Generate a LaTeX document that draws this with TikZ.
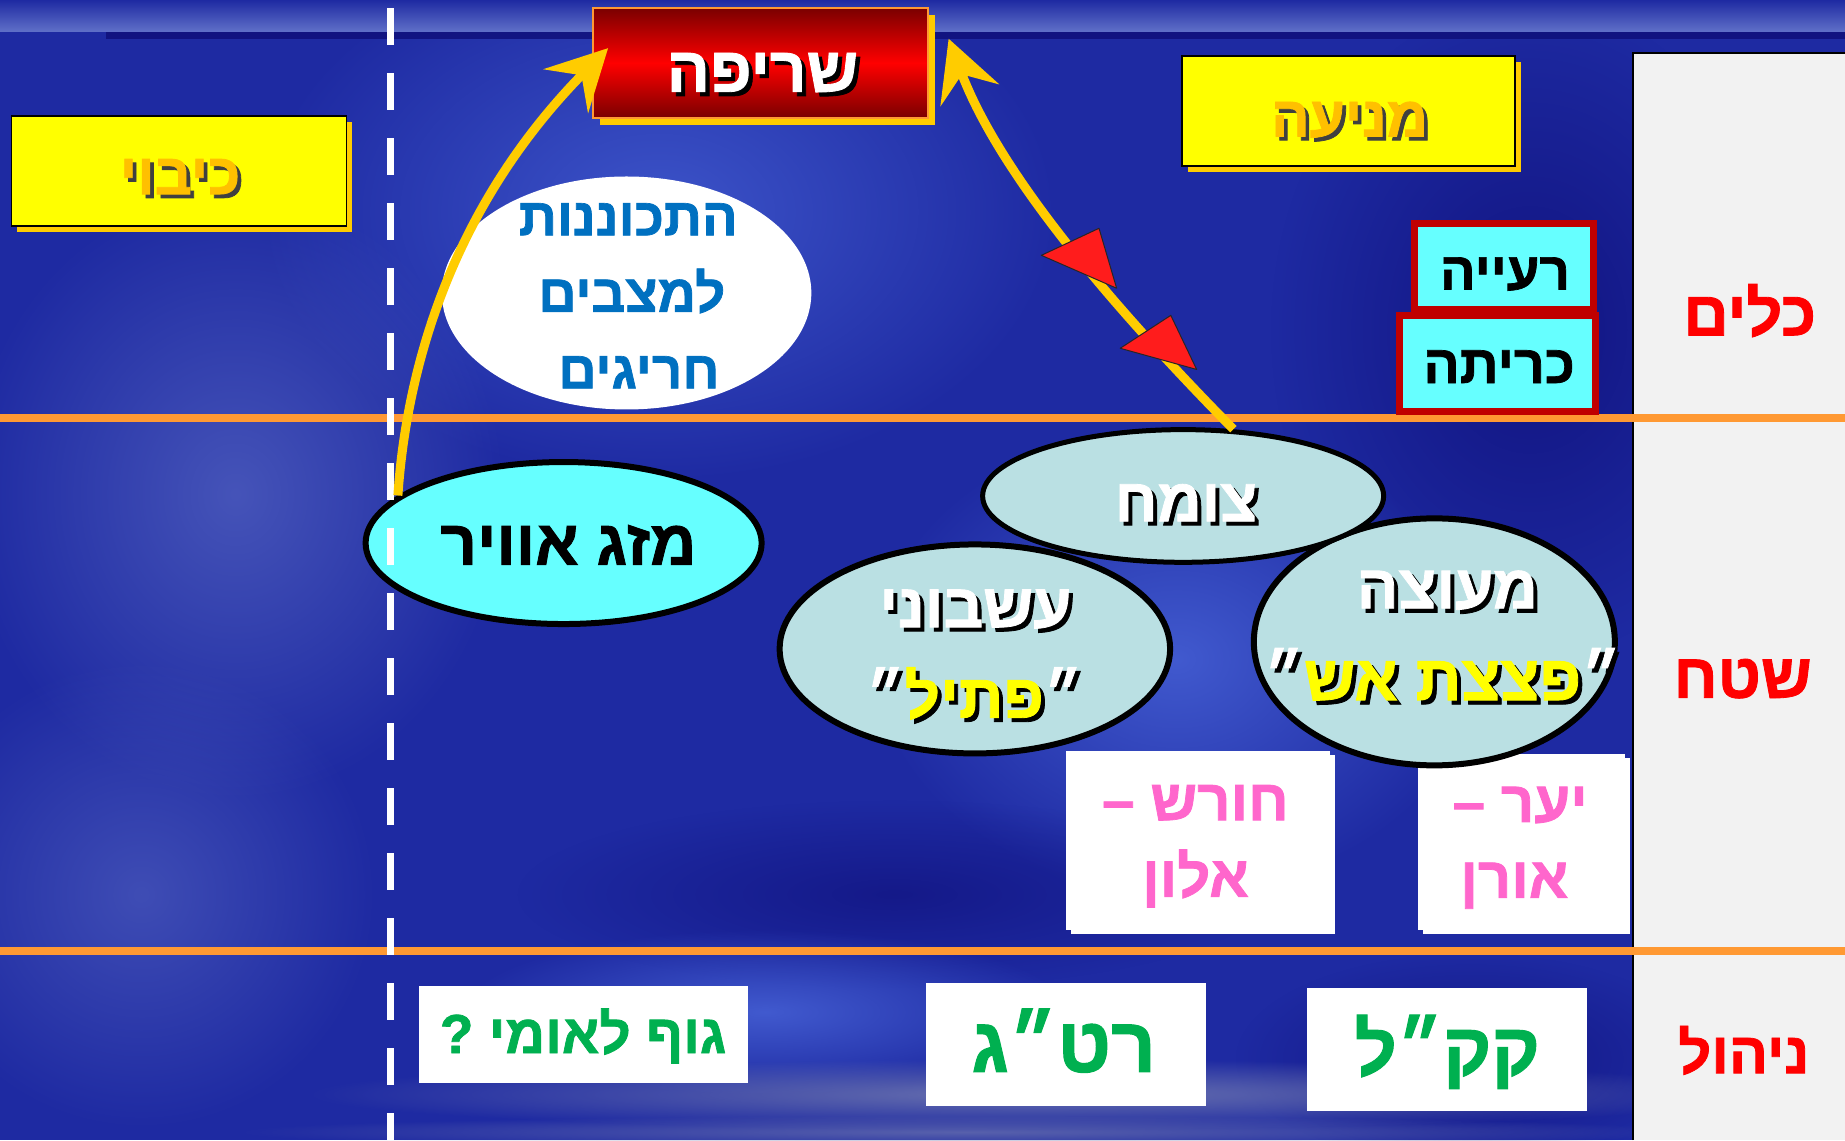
\documentclass[tikz,border=0pt]{standalone}
\usepackage{fontspec}
\usetikzlibrary{arrows.meta,shapes.geometric,shadows,fadings,calc}
\TeXXeTstate=1
\newfontfamily\hebfont[Script=Hebrew, BoldFeatures={FakeBold=1.3}]{Liberation Sans}
\definecolor{bgblue}{HTML}{1E2AA2}
\definecolor{bglight}{HTML}{4A66DA}
\definecolor{bgpale}{HTML}{6070C8}
\definecolor{bgdark}{HTML}{0E0E78}
\definecolor{bgband}{HTML}{7078B0}
\definecolor{panelgray}{HTML}{F2F2F2}
\definecolor{orangeline}{HTML}{FF9933}
\definecolor{boxyellow}{HTML}{FFFF00}
\definecolor{shyellow}{HTML}{FFCC00}
\definecolor{goldtext}{HTML}{FFC000}
\definecolor{darkredA}{HTML}{7A0000}
\definecolor{brightred}{HTML}{FF0000}
\definecolor{cyanfill}{HTML}{66FFFF}
\definecolor{borderred}{HTML}{C00000}
\definecolor{ellfill}{HTML}{BAE0E3}
\definecolor{hebblue}{HTML}{0070C0}
\definecolor{pinktext}{HTML}{FF66CC}
\definecolor{greentext}{HTML}{00B050}
\definecolor{labelred}{HTML}{FF0000}
\definecolor{arrowyellow}{HTML}{FFCC00}
\definecolor{trired}{HTML}{FF1C1C}
\definecolor{ylwtext}{HTML}{FFFF00}
\tikzfading[name=glow, inner color=transparent!0, outer color=transparent!100]
\newcommand\RL[1]{\beginR #1\endR}
\def\ylwcol{ylwtext}
\newcommand\ylw[1]{\textcolor{\ylwcol}{#1}}
\newcommand\shtext[3]{%
  \makebox[0pt]{\hspace{0.13em}\raisebox{-0.065em}{\def\ylwcol{#2}\color{#2}#3}}%
  \makebox[0pt]{\color{#1}#3}}
\begin{document}
\begin{tikzpicture}[x=1.17666pt,y=-1.17666pt,
  hb/.style={inner sep=0pt, anchor=base},
  hfs/.style={font=\hebfont\bfseries\fontsize{#1pt}{#1pt}\selectfont},
  ybox/.style={rectangle, fill=boxyellow, draw=black, line width=1.5pt, inner sep=0pt,
    minimum width=335pt, minimum height=110pt,
    drop shadow={shadow xshift=6pt, shadow yshift=-6pt, fill=shyellow, opacity=1}},
  firebox/.style={rectangle, draw=orangeline, line width=2pt, top color=darkredA,
    bottom color=darkredA, middle color=brightred, inner sep=0pt,
    minimum width=335pt, minimum height=110pt,
    drop shadow={shadow xshift=7pt, shadow yshift=-7pt, fill=shyellow, opacity=1}},
  cbox/.style={rectangle, fill=cyanfill, draw=borderred, line width=7pt, inner sep=0pt},
  wbox/.style={rectangle, fill=white, inner sep=0pt},
  wshadow/.style={drop shadow={shadow xshift=5pt, shadow yshift=-4pt, fill=white, opacity=1}},
  ell/.style={ellipse, draw=black, line width=6pt, fill=ellfill, inner sep=0pt},
  yarrow/.style={draw=arrowyellow, line width=9pt, -{Stealth[length=60pt, width=62pt, inset=22pt]}},
  tri/.style={fill=trired, draw=black!85, line width=1pt, line join=round},
]
\useasboundingbox (0,0) rectangle (1568,969);
% background
\fill[bgblue] (0,0) rectangle (1568,969);
\fill[bglight, fill opacity=0.7, path fading=glow] (560,180) ellipse (340 and 230);
\fill[bglight, fill opacity=0.8, path fading=glow] (1000,560) ellipse (260 and 200);
\fill[bgpale, fill opacity=0.6, path fading=glow] (200,420) ellipse (230 and 260);
\fill[bgpale, fill opacity=0.5, path fading=glow] (120,760) ellipse (200 and 200);
\fill[bgdark, fill opacity=0.8, path fading=glow] (1300,280) ellipse (220 and 280);
\fill[bgdark, fill opacity=0.6, path fading=glow] (760,760) ellipse (320 and 80);
\fill[bgdark, fill opacity=0.7, path fading=glow] (1250,900) ellipse (200 and 90);
\fill[bglight, fill opacity=0.8, path fading=glow] (650,860) ellipse (260 and 70);
\fill[bgband, fill opacity=0.9, path fading=glow] (880,930) ellipse (620 and 30);
\fill[bgband, fill opacity=0.7, path fading=glow] (820,962) ellipse (620 and 14);
\shade[top color=bgblue, bottom color=bgpale] (0,0) rectangle (1568,27);
\fill[bgdark, fill opacity=0.8] (90,27) rectangle (1568,33);
% right panel
\fill[panelgray] (1388,45) rectangle (1568,969);
\draw[black, line width=1.5pt] (1388,969) -- (1388,45) -- (1568,45);
% orange dividers
\draw[orangeline, line width=8pt] (0,355.5) -- (1568,355.5);
\draw[orangeline, line width=8pt] (0,808) -- (1568,808);
% boxes
\node[ybox] (kibuibox) at (152,145.5) {};
\node[firebox] (fire) at (646,53.5) {};
\node[ybox, minimum width=333pt] (meniabox) at (1146,94.5) {};
\node[cbox, minimum width=179pt, minimum height=86pt] (reiyabox) at (1278,226.5) {};
\node[cbox, minimum width=196.6pt, minimum height=96.5pt] (kritabox) at (1272.5,309) {};
\node[wbox, wshadow, minimum width=263.6pt, minimum height=178.9pt] (horeshbox) at (1018,714) {};
\node[wbox, wshadow, minimum width=207pt, minimum height=175.3pt] (yaarbox) at (1293,715.5) {};
\node[wbox, minimum width=329.5pt, minimum height=96.5pt] (gufbox) at (496,879) {};
\node[wbox, minimum width=280pt, minimum height=123.5pt] (ratagbox) at (906,887.5) {};
\node[wbox, minimum width=280pt, minimum height=122.4pt] (kakalbox) at (1230,892) {};
% ellipses
\node[ellipse, fill=white, minimum width=369.5pt, minimum height=233pt, inner sep=0pt] (prep) at (532.5,249) {};
\node[ell, fill=cyanfill, minimum width=396pt, minimum height=162pt] (mizug) at (479,461.5) {};
\node[ell, minimum width=361pt, minimum height=247pt] (meotse) at (1219,545.5) {};
\node[ell, minimum width=390.5pt, minimum height=209pt] (esev) at (828.5,551.5) {};
\node[ell, line width=5pt, minimum width=401pt, minimum height=132.7pt] (tsomach) at (1005.5,421.5) {};
% dashed separator
\draw[white, line width=7pt, dash pattern=on 37pt off 28pt] (332,6.8) -- (332,969);
% arrows
\draw[yarrow] (mizug.164) .. controls (345,320) and (380,180) .. ($(fire.north west)+(14,35)$);
\draw[yarrow] (tsomach.53) .. controls (950,265) and (850,150) .. ($(fire.north east)+(17,27)$);
\draw[tri] (885,217) -- (934,194) -- (949,245) -- cycle;
\draw[tri] (952,296) -- (995,268) -- (1017,314) -- cycle;
% texts
\node[hb,hfs=64] (t-fire) at (648,78) {\shtext{white}{black}{\RL{שריפה}}};
\node[hb,hfs=58] (t-kibui) at (153,165) {\shtext{goldtext}{black!75}{\RL{כיבוי}}};
\node[hb,hfs=57] (t-menia) at (1147,116) {\shtext{goldtext}{black!75}{\RL{מניעה}}};
\node[hb,hfs=53,text=hebblue] (t-h1) at (534,200) {\RL{התכוננות}};
\node[hb,hfs=53,text=hebblue] (t-h2) at (537,265) {\RL{למצבים}};
\node[hb,hfs=53,text=hebblue] (t-h3) at (543,330) {\RL{חריגים}};
\node[hb,hfs=53] (t-reiya) at (1279,246) {\RL{רעייה}};
\node[hb,hfs=54] (t-krita) at (1274,325.5) {\RL{כריתה}};
\node[hb,hfs=63,text=labelred] (t-kelim) at (1487,285) {\RL{כלים}};
\node[hb,hfs=64] (t-mizug) at (483,480) {\RL{מזג אוויר}};
\node[hb,hfs=61] (t-tsomach) at (1008,443) {\shtext{white}{black}{\RL{צומח}}};
\node[hb,hfs=62] (t-esev1) at (829,533) {\shtext{white}{black}{\RL{עשבוני}}};
\node[hb,hfs=62] (t-esev2) at (828,610) {\shtext{white}{black}{״\ylw{\RL{פתיל}}״}};
\node[hb,hfs=62] (t-meo1) at (1230,517) {\shtext{white}{black}{\RL{מעוצה}}};
\node[hb,hfs=64] (t-meo2) at (1226,595) {\shtext{white}{black}{״\ylw{\RL{פצצת אש}}״}};
\node[hb,hfs=58,text=pinktext] (t-horesh) at (1016,697) {\RL{חורש –}};
\node[hb,hfs=58,text=pinktext] (t-alon) at (1016,762) {\RL{אלון}};
\node[hb,hfs=58,text=pinktext] (t-yaar) at (1292,698.5) {\RL{יער –}};
\node[hb,hfs=58,text=pinktext] (t-oren) at (1287,763) {\RL{אורן}};
\node[hb,hfs=63,text=labelred] (t-shetach) at (1481,593) {\RL{שטח}};
\node[hb,hfs=55,text=greentext] (t-guf) at (495.5,895) {\RL{גוף לאומי ?}};
\node[hb,hfs=78,text=greentext] (t-ratag) at (904,911) {\RL{רט״ג}};
\node[hb,hfs=74,text=greentext] (t-kakal) at (1230,913.6) {\RL{קק״ל}};
\node[hb,hfs=58,text=labelred] (t-nihul) at (1482,912) {\RL{ניהול}};
\end{tikzpicture}
\end{document}
